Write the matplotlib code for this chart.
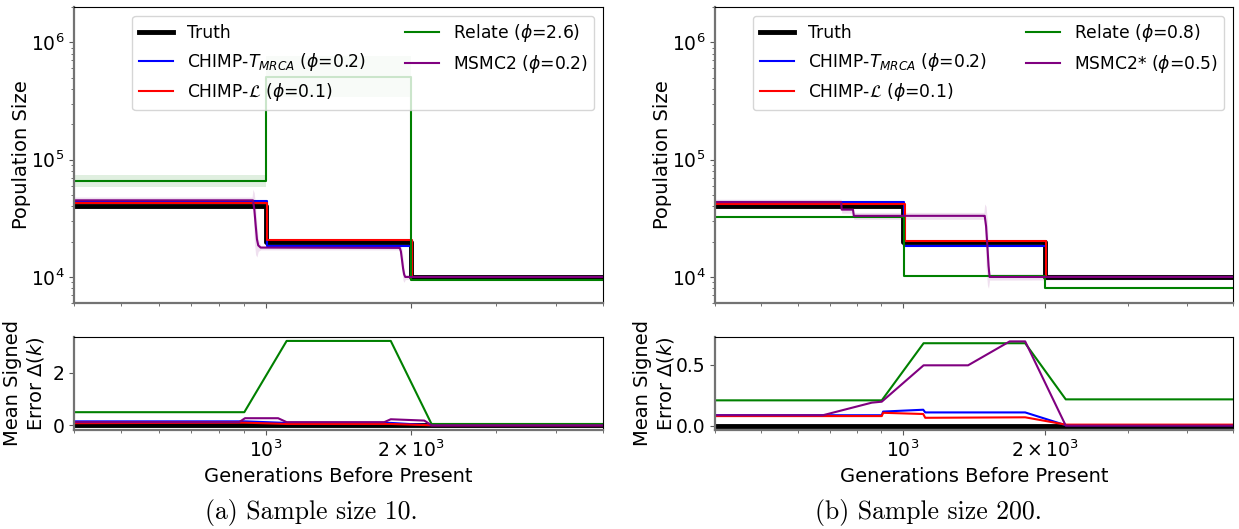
import numpy as np
import matplotlib.pyplot as plt
from matplotlib.ticker import LogLocator, NullFormatter

W, H = 1239, 529

# x limits / ticks
xlim = (400, 5000)
xticks = [1000, 2000]
xticklabels = [r'$10^3$', r'$2\times10^3$']

# ---- (a) sample size 10 ----
truth_t = [400, 1000, 2000, 5000]
truth_n = [40000, 20000, 10000, 10000]

a_tmrca_t = [400, 1005, 2003, 5000]
a_tmrca_n = [44400, 18400, 10000, 10000]
a_lik_t = [400, 1007, 2008, 5000]
a_lik_n = [42700, 20600, 10000, 10000]
a_relate_t = [400, 1000, 2000, 5000]
a_relate_n = [65800, 506000, 9500, 9500]
a_relate_lo = [58500, 340000, 9300, 9300]
a_relate_hi = [74000, 760000, 9700, 9700]
a_msmc_t = [400, 936, 940, 946, 952, 958, 964, 975, 1885, 1895, 1905, 1915, 1925, 1935, 1945, 5000]
a_msmc_n = [45000, 45000, 45000, 38000, 28000, 21000, 18600, 17800, 17700, 17700, 16500, 14000, 11800, 10500, 10000, 10000]
a_msmc_lo = [42000, 42000, 42000, 20000, 15500, 14800, 16500, 17000, 17000, 17000, 14000, 11000, 9300, 9000, 9500, 9600]
a_msmc_hi = [48000, 48000, 56000, 52000, 40000, 28000, 21000, 18600, 18500, 18500, 18500, 17500, 14500, 11800, 10500, 10400]

err_a_tmrca_t = [400, 902, 1104, 1815, 2205, 5000]
err_a_tmrca = [0.15, 0.15, 0.09, 0.09, 0.0, 0.0]
err_a_lik_t = [400, 902, 1104, 1815, 2205, 5000]
err_a_lik = [0.08, 0.1, 0.05, 0.05, 0.0, 0.0]
err_a_relate_t = [400, 902, 1104, 1815, 2205, 5000]
err_a_relate = [0.5, 0.5, 3.22, 3.22, 0.05, 0.05]
err_a_msmc_t = [400, 880, 905, 1060, 1104, 1760, 1815, 2130, 2205, 5000]
err_a_msmc = [0.12, 0.12, 0.27, 0.27, 0.12, 0.12, 0.23, 0.18, 0.0, 0.0]

# ---- (b) sample size 200 ----
b_tmrca_t = [400, 1004, 2005, 5000]
b_tmrca_n = [43700, 18400, 10000, 10000]
b_lik_t = [400, 1010, 2012, 5000]
b_lik_n = [41500, 20300, 10000, 10000]
b_relate_t = [400, 1003, 2003, 5000]
b_relate_n = [32600, 10200, 8050, 8050]
b_msmc_t = [400, 740, 742, 784, 787, 1484, 1490, 1500, 1510, 1518, 1526, 5000]
b_msmc_n = [43500, 43500, 37500, 37500, 33200, 33200, 33200, 27000, 18000, 12500, 10000, 10000]
b_msmc_lo = [41000, 41000, 35000, 35000, 31000, 31000, 31000, 12000, 8500, 8000, 9400, 9500]
b_msmc_hi = [46000, 46000, 40000, 40000, 35500, 35500, 42000, 40000, 30000, 16000, 10600, 10500]

err_b_tmrca_t = [400, 902, 908, 1104, 1115, 1815, 2212, 5000]
err_b_tmrca = [0.085, 0.085, 0.115, 0.13, 0.108, 0.108, 0.003, 0.003]
err_b_lik_t = [400, 902, 908, 1104, 1115, 1815, 2212, 5000]
err_b_lik = [0.078, 0.078, 0.105, 0.095, 0.064, 0.068, 0.008, 0.008]
err_b_relate_t = [400, 902, 1106, 1815, 2212, 5000]
err_b_relate = [0.207, 0.207, 0.675, 0.675, 0.215, 0.215]
err_b_msmc_t = [400, 677, 859, 902, 1106, 1374, 1683, 1815, 2212, 5000]
err_b_msmc = [0.085, 0.085, 0.188, 0.196, 0.494, 0.494, 0.69, 0.69, 0.0, 0.0]

plt.rcParams['font.size'] = 13.5
plt.rcParams['mathtext.fontset'] = 'dejavusans'

fig = plt.figure(figsize=(W / 100, H / 100), dpi=100)


def style_axis(ax):
    ax.set_xscale('log')
    ax.set_xlim(*xlim)
    ax.xaxis.set_minor_locator(LogLocator(base=10, subs=np.arange(2, 10) * 1.0, numticks=20))
    ax.xaxis.set_minor_formatter(NullFormatter())
    ax.set_xticks(xticks)
    for s in ['left', 'bottom']:
        ax.spines[s].set_color('0.45')
        ax.spines[s].set_linewidth(1.6)
    for s in ['top', 'right']:
        ax.spines[s].set_color('black')
        ax.spines[s].set_linewidth(0.8)
    ax.tick_params(which='both', color='0.35')


def draw_panel(x0, w, tmrca, lik, relate, msmc, errs, labels, err_ylim, err_ticks,
               caption, cx, lab_top, lab_bot):
    ax = fig.add_axes([x0 / W, 1 - 303 / H, w / W, 296 / H])
    ax2 = fig.add_axes([x0 / W, 1 - 430 / H, w / W, 93 / H])
    style_axis(ax)
    style_axis(ax2)

    ax.plot(truth_t, truth_n, color='black', lw=3.5, drawstyle='steps-post', label='Truth')
    ax.plot(tmrca[0], tmrca[1], color='blue', lw=1.5, drawstyle='steps-post', label=labels[0])
    ax.plot(lik[0], lik[1], color='red', lw=1.5, drawstyle='steps-post', label=labels[1])
    if len(relate) > 2:
        ax.fill_between(relate[0], relate[2], relate[3], step='post', color='green', alpha=0.12, lw=0)
    ax.plot(relate[0], relate[1], color='green', lw=1.5, drawstyle='steps-post', label=labels[2])
    ax.fill_between(msmc[0], msmc[2], msmc[3], color='purple', alpha=0.12, lw=0)
    ax.plot(msmc[0], msmc[1], color='purple', lw=1.5, label=labels[3])
    ax.set_yscale('log')
    ax.set_ylim(6000, 2e6)
    ax.set_xticklabels([])
    ax.set_ylabel('Population Size', fontsize=14)
    ax.yaxis.set_label_coords(lab_top, 0.5)
    ax.legend(loc='upper right', ncol=2, fontsize=12.3, columnspacing=2.3)

    ax2.plot(xlim, [0, 0], color='black', lw=3.5)
    ax2.plot(errs[0][0], errs[0][1], color='blue', lw=1.5)
    ax2.plot(errs[1][0], errs[1][1], color='red', lw=1.5)
    ax2.plot(errs[2][0], errs[2][1], color='green', lw=1.5)
    ax2.plot(errs[3][0], errs[3][1], color='purple', lw=1.5)
    ax2.set_ylim(*err_ylim)
    ax2.set_yticks(err_ticks)
    ax2.set_xticklabels(xticklabels)
    ax2.set_xlabel('Generations Before Present', fontsize=14)
    ax2.set_ylabel('Mean Signed\nError $\\Delta(k)$', fontsize=14)
    ax2.yaxis.set_label_coords(lab_bot, 0.5)

    fig.text(cx / W, 1 - 512 / H, caption, ha='center', va='center',
             fontfamily='cmr10', fontsize=18.5)


draw_panel(74, 529,
           (a_tmrca_t, a_tmrca_n), (a_lik_t, a_lik_n),
           (a_relate_t, a_relate_n, a_relate_lo, a_relate_hi),
           (a_msmc_t, a_msmc_n, a_msmc_lo, a_msmc_hi),
           [(err_a_tmrca_t, err_a_tmrca), (err_a_lik_t, err_a_lik),
            (err_a_relate_t, err_a_relate), (err_a_msmc_t, err_a_msmc)],
           [r'CHIMP-$T_{MRCA}$ ($\phi$=0.2)', r'CHIMP-$\mathcal{L}$ ($\phi$=0.1)',
            r'Relate ($\phi$=2.6)', r'MSMC2 ($\phi$=0.2)'],
           (-0.18, 3.37), [0, 2], '(a) Sample size 10.', 311, -0.081, -0.052)

draw_panel(715, 518,
           (b_tmrca_t, b_tmrca_n), (b_lik_t, b_lik_n),
           (b_relate_t, b_relate_n),
           (b_msmc_t, b_msmc_n, b_msmc_lo, b_msmc_hi),
           [(err_b_tmrca_t, err_b_tmrca), (err_b_lik_t, err_b_lik),
            (err_b_relate_t, err_b_relate), (err_b_msmc_t, err_b_msmc)],
           [r'CHIMP-$T_{MRCA}$ ($\phi$=0.2)', r'CHIMP-$\mathcal{L}$ ($\phi$=0.1)',
            r'Relate ($\phi$=0.8)', r'MSMC2* ($\phi$=0.5)'],
           (-0.036, 0.726), [0.0, 0.5], '(b) Sample size 200.', 928, -0.083, -0.075)

fig.savefig('out.png', dpi=100)
